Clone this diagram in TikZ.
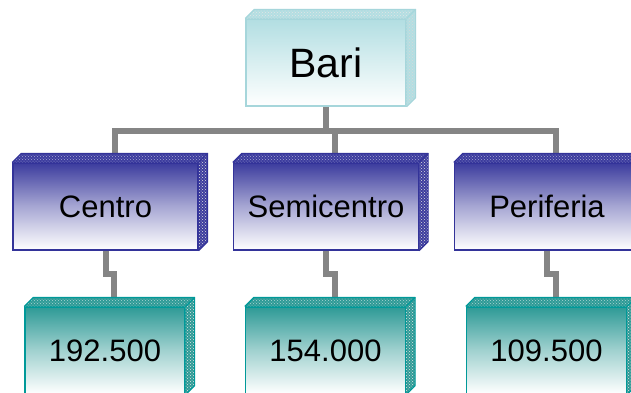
\documentclass[tikz,border=0pt]{standalone}
\usepackage{fontspec}
\setmainfont{Liberation Sans}
\usetikzlibrary{patterns,backgrounds}
\definecolor{bariTop}{HTML}{B2DEE2}
\definecolor{bariEdge}{HTML}{A6D6DB}
\definecolor{blueTop}{HTML}{3C3C9E}
\definecolor{blueEdge}{HTML}{333399}
\definecolor{tealTop}{HTML}{2E9A96}
\definecolor{tealEdge}{HTML}{009999}
\definecolor{connGray}{HTML}{858585}
\tikzset{
  box/.style={rectangle, inner sep=0pt, line width=1.2pt, text=black},
  rootbox/.style={box, draw=bariEdge, top color=bariTop, bottom color=white,
    minimum width=160pt, minimum height=87pt, font=\fontsize{41}{41}\selectfont},
  midbox/.style={box, draw=blueEdge, top color=blueTop, bottom color=white,
    middle color=blueTop!45!white,
    minimum width=185pt, minimum height=87pt, font=\fontsize{31}{31}\selectfont},
  leafbox/.style={box, draw=tealEdge, top color=tealTop, bottom color=white,
    middle color=tealTop!45!white,
    minimum width=160pt, minimum height=87pt, font=\fontsize{31}{31}\selectfont},
  conn/.style={draw=connGray, line width=6pt},
}
\newcommand\threeDfaces[5]{%
  % #1 node, #2 face colour, #3 edge colour, #4 top pattern colour, #5 side pattern colour
  \path[fill=#2] (#1.north west) -- ++(9,-9) -- ([shift={(9,-9)}]#1.north east) -- (#1.north east) -- cycle;
  \path[pattern=crosshatch dots, pattern color=#4] (#1.north west) -- ++(9,-9) -- ([shift={(9,-9)}]#1.north east) -- (#1.north east) -- cycle;
  \path[fill=#2] (#1.north east) -- ++(9,-9) -- ([shift={(9,-9)}]#1.south east) -- (#1.south east) -- cycle;
  \path[pattern=crosshatch dots, pattern color=#5] (#1.north east) -- ++(9,-9) -- ([shift={(9,-9)}]#1.south east) -- (#1.south east) -- cycle;
  \draw[#3, line width=1.2pt, line join=round] (#1.north west) -- ++(9,-9) -- ([shift={(9,-9)}]#1.north east) -- ([shift={(9,-9)}]#1.south east) -- (#1.south east);
  \draw[#3, line width=1.2pt] (#1.north east) -- ++(9,-9);
  \coordinate (#1-top) at ([shift={(9,-9)}]#1.north);
}
\begin{document}
\begin{tikzpicture}[x=1pt,y=-1pt]
\path[use as bounding box] (0,0) rectangle (631,392);
\clip (0,0) rectangle (631,392);

\node[rootbox] (bari) at (326,62.5) {Bari};
\threeDfaces{bari}{bariTop}{bariEdge}{white!80!gray}{white!70!gray}

\node[midbox] (centro) at (105.5,206.5) {Centro};
\threeDfaces{centro}{blueTop}{blueEdge}{blueTop!45!white}{white!75!gray}
\node[midbox] (semi) at (326,206.5) {Semicentro};
\threeDfaces{semi}{blueTop}{blueEdge}{blueTop!45!white}{white!75!gray}
\node[midbox] (peri) at (547,206.5) {Periferia};
\threeDfaces{peri}{blueTop}{blueEdge}{blueTop!45!white}{white!75!gray}

\node[leafbox] (n1) at (105,350.5) {192.500};
\threeDfaces{n1}{tealTop}{tealEdge}{tealTop!40!white}{white!80!gray}
\node[leafbox] (n2) at (325.5,350.5) {154.000};
\threeDfaces{n2}{tealTop}{tealEdge}{tealTop!40!white}{white!80!gray}
\node[leafbox] (n3) at (546.5,350.5) {109.500};
\threeDfaces{n3}{tealTop}{tealEdge}{tealTop!40!white}{white!80!gray}

\begin{scope}[on background layer]
  \fill[white] (0,0) rectangle (631,392);
  \draw[conn] (bari.south) -- ++(0,24) -| (centro-top);
  \draw[conn] (bari.south) -- ++(0,24) -| (semi-top);
  \draw[conn] (bari.south) -- ++(0,24) -| (peri-top);
  \draw[conn] (centro.south) -- ++(0,23) -| (n1-top);
  \draw[conn] (semi.south) -- ++(0,23) -| (n2-top);
  \draw[conn] (peri.south) -- ++(0,23) -| (n3-top);
\end{scope}
\end{tikzpicture}
\end{document}
